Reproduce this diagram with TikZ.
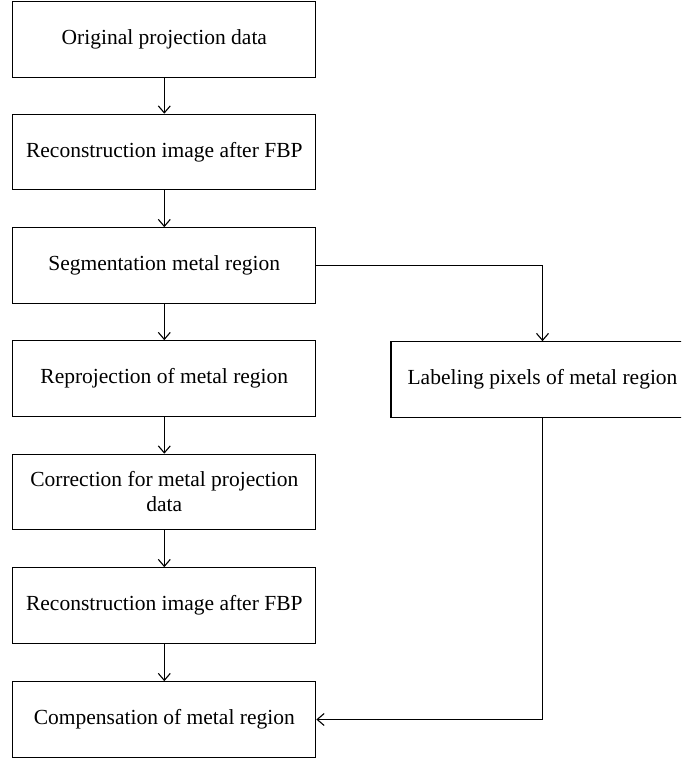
\documentclass[tikz,border=0pt]{standalone}
\usepackage{fontspec}
\setmainfont{Liberation Serif}
\usetikzlibrary{arrows.meta}
\tikzset{
  box/.style={draw, line width=1.1pt, minimum width=303pt, minimum height=75.5pt,
    inner sep=0pt, align=center, font=\fontsize{21.5}{25}\selectfont},
  link/.style={line width=1.1pt, -{Straight Barb[length=7pt,width=12pt,line width=1.1pt]}},
}
\begin{document}
\begin{tikzpicture}[x=1pt,y=-1pt]
\useasboundingbox (0,0) rectangle (681,761);
\clip (0,0) rectangle (681,761);
\node[box] (b1) at (164.3,39.5) {Original projection data};
\node[box] (b2) at (164.3,152) {Reconstruction image after FBP};
\node[box] (b3) at (164.3,265.5) {Segmentation metal region};
\node[box] (b4) at (164.3,378.5) {Reprojection of metal region};
\node[box] (b5) at (164.3,492) {Correction for metal projection\\data};
\node[box] (b6) at (164.3,605.5) {Reconstruction image after FBP};
\node[box] (b7) at (164.3,719.5) {Compensation of metal region};
\node[box] (r) at (542.5,379.5) {Labeling pixels of metal region};
\draw[link] (b1) -- (b2);
\draw[link] (b2) -- (b3);
\draw[link] (b3) -- (b4);
\draw[link] (b4) -- (b5);
\draw[link] (b5) -- (b6);
\draw[link] (b6) -- (b7);
\draw[link] (b3.east) -| (r.north);
\draw[link] (r.south) |- (b7.east);
\end{tikzpicture}
\end{document}
